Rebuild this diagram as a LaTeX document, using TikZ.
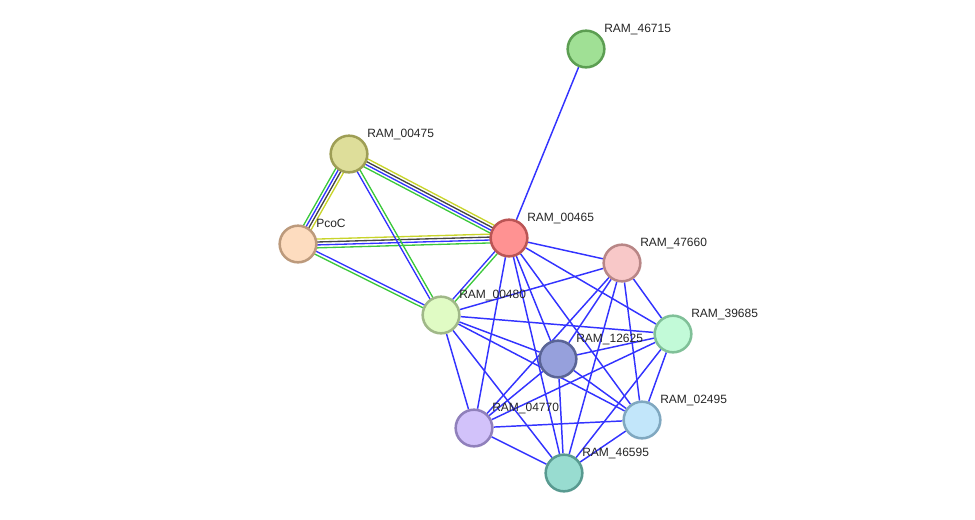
\documentclass[tikz,border=0pt]{standalone}
\usepackage{fontspec}
\setmainfont{Liberation Sans}
\usetikzlibrary{calc}

% node fills / borders
\definecolor{f46715}{HTML}{A0E095}\definecolor{b46715}{HTML}{5C9E52}
\definecolor{f00475}{HTML}{DEDE9A}\definecolor{b00475}{HTML}{9E9E55}
\definecolor{fpcoc}{HTML}{FDDCBF}\definecolor{bpcoc}{HTML}{BC9A7C}
\definecolor{f00465}{HTML}{FF9292}\definecolor{b00465}{HTML}{BB5555}
\definecolor{f47660}{HTML}{F8C8C8}\definecolor{b47660}{HTML}{B88686}
\definecolor{f00480}{HTML}{E0FBC4}\definecolor{b00480}{HTML}{A0B888}
\definecolor{f39685}{HTML}{C2FAD8}\definecolor{b39685}{HTML}{80C098}
\definecolor{f12625}{HTML}{96A0DC}\definecolor{b12625}{HTML}{5A6496}
\definecolor{f02495}{HTML}{C2E6FA}\definecolor{b02495}{HTML}{80A8C0}
\definecolor{f04770}{HTML}{D2C2FA}\definecolor{b04770}{HTML}{9080BB}
\definecolor{f46595}{HTML}{98DCD0}\definecolor{b46595}{HTML}{589A90}
% evidence colours
\definecolor{linkblue}{HTML}{3333FF}
\definecolor{linkgreen}{HTML}{3CC83C}
\definecolor{linkyellow}{HTML}{C8D42A}
\definecolor{linkdark}{HTML}{444444}

\pgfdeclarelayer{edges}
\pgfsetlayers{edges,main}

\tikzset{
  prot/.style={circle,inner sep=0pt,minimum size=27.5pt,line width=1.9pt},
  name tag/.style={anchor=base west,inner sep=0pt,font=\fontsize{9}{10}\selectfont,text=black!85},
  assoc/.style={line width=1.1pt,draw=linkblue},
}
% one strand of a multi-evidence link, shifted sideways by #3
\newcommand\evline[4]{\draw[line width=1pt,draw=#4] ($(#1)!#3!90:(#2)$) -- ($(#2)!#3!-90:(#1)$);}

\begin{document}
\begin{tikzpicture}[x=0.75pt,y=-0.75pt]
  \useasboundingbox (0,0) rectangle (975,519);
  % proteins
  \foreach \id/\x/\y/\txt in {46715/586/49/RAM\_46715, 00475/349/154/RAM\_00475,
                              pcoc/298/244/PcoC, 00465/509/238/RAM\_00465,
                              47660/622/263/RAM\_47660, 00480/441/315/RAM\_00480,
                              39685/673/334/RAM\_39685, 12625/558/359/RAM\_12625,
                              02495/642/420/RAM\_02495, 04770/474/428/RAM\_04770,
                              46595/564/473/RAM\_46595} {
    \node[prot,fill=f\id,draw=b\id] (n\id) at (\x,\y) {};
    \node[name tag] (t\id) at ($(n\id)+(18,-17)$) {\txt};
  }
  \begin{pgfonlayer}{edges}
    % triangle with several kinds of evidence
    \foreach \a/\b in {n00475/n00465, npcoc/n00465, n00475/npcoc} {
      \evline{\a}{\b}{3.3pt}{linkyellow}
      \evline{\a}{\b}{1.1pt}{linkdark}
      \evline{\a}{\b}{-1.1pt}{linkblue}
      \evline{\a}{\b}{-3.3pt}{linkgreen}
    }
    \evline{npcoc}{n00480}{1.2pt}{linkblue}
    \evline{npcoc}{n00480}{-1.2pt}{linkgreen}
    \evline{n00475}{n00480}{-1.2pt}{linkblue}
    \evline{n00475}{n00480}{1.2pt}{linkgreen}
    \evline{n00465}{n00480}{-1.2pt}{linkblue}
    \evline{n00465}{n00480}{1.2pt}{linkgreen}
    % plain links
    \foreach \a/\b in {00465/46715, 00465/47660, 00465/39685, 00465/12625,
                       00465/02495, 00465/04770, 00465/46595,
                       47660/00480, 47660/39685, 47660/12625, 47660/02495,
                       47660/04770, 47660/46595,
                       00480/39685, 00480/12625, 00480/02495, 00480/04770, 00480/46595,
                       39685/12625, 39685/02495, 39685/04770, 39685/46595,
                       12625/02495, 12625/04770, 12625/46595,
                       02495/04770, 02495/46595, 04770/46595}
      \draw[assoc] (n\a) -- (n\b);
  \end{pgfonlayer}
\end{tikzpicture}
\end{document}
